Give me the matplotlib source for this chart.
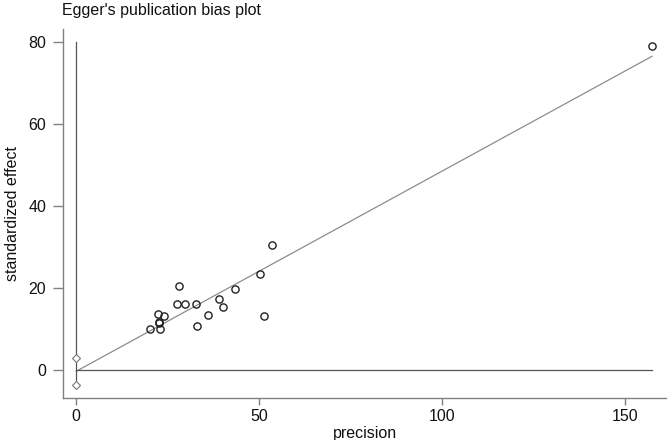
import matplotlib
matplotlib.use("Agg")
import matplotlib.pyplot as plt
import numpy as np

plt.rcParams['font.family'] = ['Liberation Sans', 'DejaVu Sans']

# Data
precision = [157.3, 53.6, 50.1, 43.4, 28.1, 27.6, 29.8, 32.8, 39.0, 40.1,
             36.1, 51.2, 33.0, 22.3, 23.9, 22.5, 22.5, 22.8, 20.1]
std_effect = [79.0, 30.5, 23.3, 19.8, 20.5, 16.1, 16.1, 16.2, 17.4, 15.4,
              13.5, 13.2, 10.7, 13.6, 13.2, 11.8, 11.4, 10.1, 10.1]
intercept_ci = [3.0, -3.7]
intercept = -0.3
slope = 0.488
vline_top = 80
x_ticks = [0, 50, 100, 150]
y_ticks = [0, 20, 40, 60, 80]

fig = plt.figure(figsize=(6.69, 4.40), dpi=100)
ax = fig.add_axes([63/669, 1-398/440, (666-63)/669, (398-29)/440])

xmax = max(precision)
xs = np.array([0, xmax])
ax.plot(xs, intercept + slope*xs, color='#8c8c8c', lw=0.9, zorder=2)
ax.plot([0, xmax], [0, 0], color='#555555', lw=0.9, zorder=2)
ax.plot([0, 0], [min(intercept_ci), vline_top], color='#555555', lw=0.9, zorder=2)
ax.plot([0]*len(intercept_ci), intercept_ci, linestyle='none', marker='D',
        markersize=3.8, markerfacecolor='white', markeredgecolor='#777777',
        markeredgewidth=0.8, zorder=3)
ax.plot(precision, std_effect, linestyle='none', marker='o', markersize=5.2,
        markerfacecolor='none', markeredgecolor='#222222', markeredgewidth=1.0, zorder=4)

ax.set_xlim(-3.63, 161.1)
ax.set_ylim(-6.82, 83.1)
ax.set_xticks(x_ticks)
ax.set_yticks(y_ticks)
for s in ['top', 'right']:
    ax.spines[s].set_visible(False)
for s in ['left', 'bottom']:
    ax.spines[s].set_color('#808080')
    ax.spines[s].set_linewidth(1.0)
ax.tick_params(axis='both', colors='#808080', labelcolor='#111111', labelsize=11.5,
               width=1.0)
ax.tick_params(axis='y', length=7, pad=5)
ax.tick_params(axis='x', length=5, pad=3)
ax.set_xlabel('precision', fontsize=11.5, labelpad=1, color='#111111')
ax.set_ylabel('standardized effect', fontsize=11.5, labelpad=6, color='#111111')
fig.text(62/669, 1-10/440, "Egger's publication bias plot", fontsize=11.5,
         ha='left', va='center', color='#111111')

fig.savefig('out.png', dpi=100, facecolor='white')
